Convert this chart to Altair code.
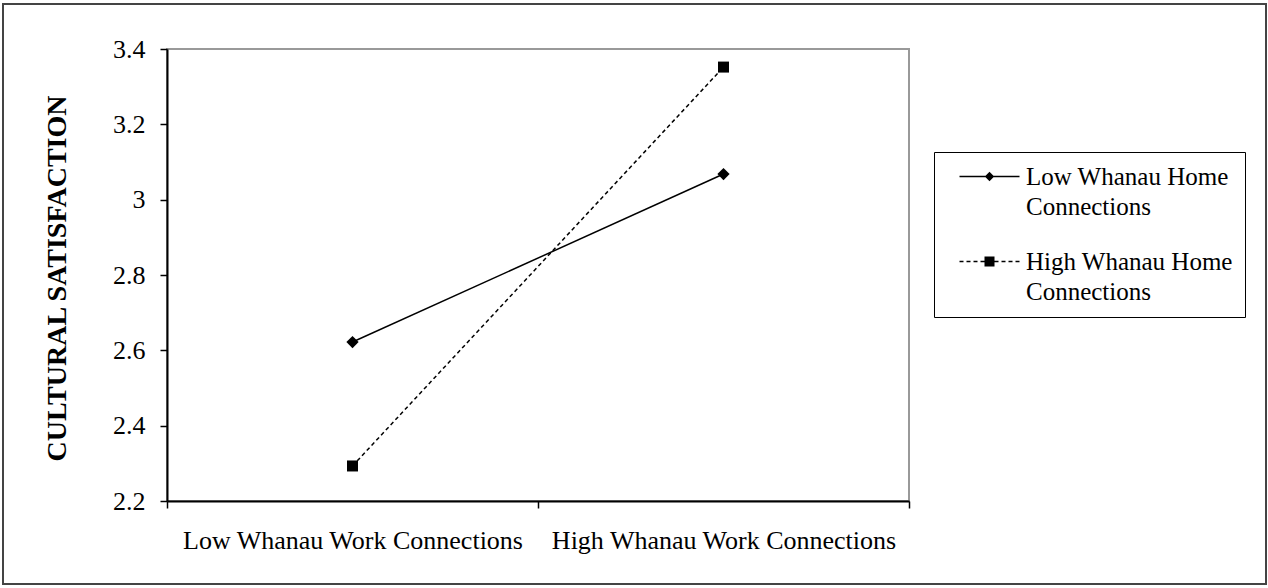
import altair as alt
import pandas as pd

work_levels = ["Low Whanau Work Connections", "High Whanau Work Connections"]
series_names = ["Low Whanau Home Connections", "High Whanau Home Connections"]
low_home_values = [2.622, 3.068]
high_home_values = [2.293, 3.352]
y_ticks = [2.2, 2.4, 2.6, 2.8, 3.0, 3.2, 3.4]

rows = []
for s, vals in zip(series_names, [low_home_values, high_home_values]):
    for w, v in zip(work_levels, vals):
        rows.append({"work": w, "series": s, "value": v})
df = pd.DataFrame(rows)

FONT = "Liberation Serif"

x_enc = alt.X(
    "work:N",
    sort=work_levels,
    bandPosition=0.5,
    scale=alt.Scale(type="band", domain=work_levels, paddingInner=0, paddingOuter=0),
    axis=alt.Axis(
        title=None, labelAngle=0, tickBand="extent", labelFontSize=26,
        labelPadding=19, tickSize=7, tickColor="black", domainColor="black",
        domainWidth=2, tickWidth=1.5, labelColor="black", labelFont=FONT,
        labelLimit=0, grid=False,
    ),
)
y_enc = alt.Y(
    "value:Q",
    scale=alt.Scale(domain=[2.2, 3.4], nice=False, zero=False),
    axis=alt.Axis(
        title="CULTURAL SATISFACTION", values=y_ticks, format=".1~f",
        labelFontSize=26, labelPadding=15, tickSize=7, tickColor="black",
        domainColor="black", domainWidth=2, tickWidth=1.5, labelColor="black",
        labelFont=FONT, titleFont=FONT, titleFontSize=28, titleFontWeight="bold",
        titleColor="black", titleAngle=270, titleX=-110, titleY=229,
        titleAlign="center", titleBaseline="middle", grid=False,
    ),
)

frame = alt.Chart(alt.Data(values=[{"f": 1}])).mark_rect(
    fill="white", fillOpacity=0, stroke="#444", strokeWidth=2
).encode(
    x=alt.value(-164), x2=alt.value(1099), y=alt.value(-45), y2=alt.value(535)
)

base = alt.Chart(df).encode(x=x_enc, y=y_enc)

line_low = base.mark_line(color="black", strokeWidth=1.5).transform_filter(
    alt.datum.series == series_names[0]
)
line_high = base.mark_line(color="black", strokeWidth=1.5, strokeDash=[4, 3]).transform_filter(
    alt.datum.series == series_names[1]
)
pts_low = base.mark_point(filled=True, color="black", opacity=1, shape="diamond", size=150).transform_filter(
    alt.datum.series == series_names[0]
)
pts_high = base.mark_point(filled=True, color="black", opacity=1, shape="square", size=121).transform_filter(
    alt.datum.series == series_names[1]
)

# legend glyphs: thin filled bars for the line part, plus the marker
H = 0.075
solid_glyph = (
    f"M-3,-{H}L3,-{H}L3,{H}L-3,{H}Z"
    "M0,-0.47L0.47,0L0,0.47L-0.47,0Z"
)
dash_spans = [(-3.0, -2.6), (-2.3, -1.9), (-1.6, -1.2), (-0.9, -0.5),
              (0.5, 0.9), (1.2, 1.6), (1.9, 2.3), (2.6, 3.0)]
dashed_glyph = "".join(
    f"M{a},-{H}L{b},-{H}L{b},{H}L{a},{H}Z" for a, b in dash_spans
) + "M-0.5,-0.5L0.5,-0.5L0.5,0.5L-0.5,0.5Z"
legend_paths = [solid_glyph, dashed_glyph]

legend_layer = base.mark_point(filled=True, opacity=0).encode(
    fill=alt.value("black"),
    shape=alt.Shape(
        "series:N",
        scale=alt.Scale(domain=series_names, range=legend_paths),
        legend=alt.Legend(
            title=None, orient="none", legendX=767, legendY=103,
            strokeColor="black", padding=12, fillColor="white",
            labelFont=FONT, labelFontSize=25, labelColor="black",
            labelLimit=0, labelOffset=24, symbolOffset=31,
            labelExpr="split(replace(datum.label, ' Home ', ' Home\u00a0\u00a0|'), '|')",
            symbolSize=400, symbolOpacity=1, symbolFillColor="black",
            symbolStrokeWidth=0, rowPadding=29,
        ),
    ),
)

chart = alt.layer(frame, line_low, line_high, pts_low, pts_high, legend_layer).properties(
    width=742, height=452,
    autosize=alt.AutoSizeParams(type="none"),
    padding={"left": 167, "top": 49, "right": 359, "bottom": 87},
).configure(
    view={"stroke": "#999", "strokeWidth": 2},
    style={"guide-label": {"lineHeight": 30}},
)

chart.save("out.html", embed_options={"renderer": "svg", "actions": False})
